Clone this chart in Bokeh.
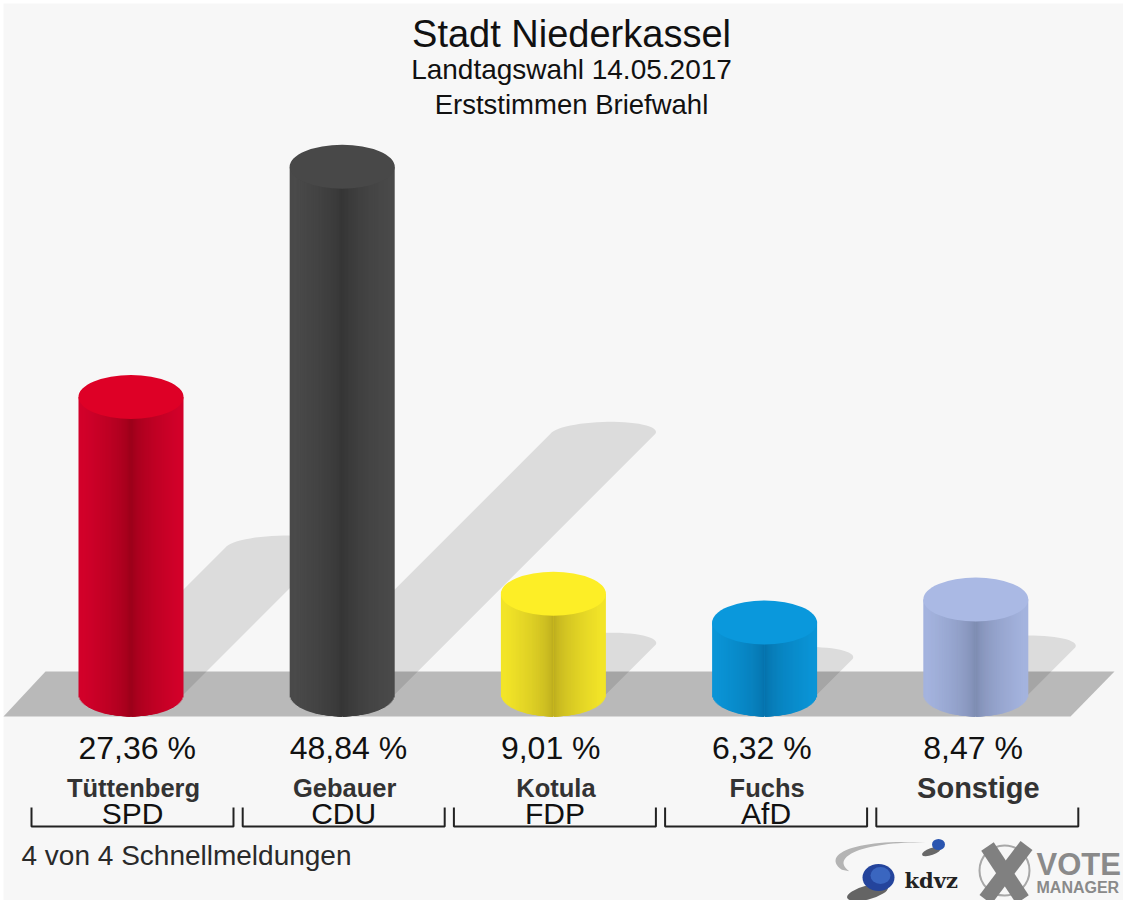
import numpy as np
from bokeh.core.properties import value
from bokeh.embed import file_html
from bokeh.models import ColumnDataSource, Range1d
from bokeh.plotting import figure
from bokeh.resources import INLINE

candidates = ["Tüttenberg", "Gebauer", "Kotula", "Fuchs", "Sonstige"]
candidate_sizes = ["25.5px", "25.5px", "25.5px", "25.5px", "29px"]
parties = ["SPD", "CDU", "FDP", "AfD", ""]
shares = [27.36, 48.84, 9.01, 6.32, 8.47]
edge_colors = ["#d2002a", "#4a4a4a", "#f2e428", "#0a94d6", "#a4b3de"]
center_colors = ["#960018", "#333333", "#b8a81e", "#0670a8", "#7a88ad"]
top_colors = ["#de0026", "#484848", "#fdee26", "#0a98dc", "#aab9e4"]
titles = ["Stadt Niederkassel", "Landtagswahl 14.05.2017", "Erststimmen Briefwahl"]
title_sizes = ["38px", "28px", "27.5px"]
footer = "4 von 4 Schnellmeldungen"

W, H = 1123, 900
PX_PER_CAT, PX_PER_PCT = 211.2, 10.72
X0, Y0 = 130.5, 689.8
FONT = value("Liberation Sans")


def X(px):
    return (np.asarray(px, dtype=float) - X0) / PX_PER_CAT


def Y(px):
    return (Y0 - np.asarray(px, dtype=float)) / PX_PER_PCT


def hex_rgb(c):
    return np.array([int(c[i:i + 2], 16) for i in (1, 3, 5)], dtype=float)


def rgb_hex(a):
    return "#%02x%02x%02x" % tuple(int(round(v)) for v in a)


p = figure(width=W, height=H, output_backend="svg", toolbar_location=None,
           x_range=Range1d(float(X(0)), float(X(W))),
           y_range=Range1d(float(Y(H)), float(Y(0))),
           min_border=0, background_fill_color="#ffffff", border_fill_color="#ffffff",
           outline_line_color=None)
p.axis.visible = False
p.grid.visible = False

p.quad(left=[float(X(3))], right=[float(X(W))], bottom=[float(Y(H))], top=[float(Y(3))],
       fill_color="#f7f7f7", line_color=None)

# ground band
p.patch(X([3, 1070, 1114, 45]), Y([716, 716, 671, 671]), fill_color="#b9b9b9", line_color=None)

RX, RY = 52.5 / PX_PER_CAT, 22.0 / PX_PER_PCT
BASE = float(Y(694))
cats = np.arange(len(shares))

# shadows
SH = 0.494
for c, v in zip(cats, shares):
    dy = SH * (v - BASE)
    dx = dy * PX_PER_PCT / PX_PER_CAT
    t = np.linspace(0, np.pi, 30)
    ax = c + dx + RX * np.cos(t) + (8 / PX_PER_CAT) * np.sin(t)
    ay = BASE + dy + (12 / PX_PER_PCT) * np.sin(t)
    p.patch(np.r_[c + RX, ax, c - RX], np.r_[BASE, ay, BASE], fill_color="#000000",
            fill_alpha=0.105, line_color=None)

# cylinders: overlapping strips painted from the outer edges inwards, so no seams show
N = 50
edges = np.linspace(1, 0, N + 1)
for c, v, ec, cc, tc in zip(cats, shares, edge_colors, center_colors, top_colors):
    e, m = hex_rgb(ec), hex_rgb(cc)
    outer = edges[:-1]
    depth = BASE - RY * np.sqrt(np.clip(1 - ((edges[:-1] + edges[1:]) / 2) ** 2, 0, 1))
    colors = [rgb_hex(m + (e - m) * min(1.0, d ** 0.55 * 1.05)) for d in (edges[:-1] + edges[1:]) / 2]
    for side in (-1, 1):
        xa = c + side * outer * RX
        xb = np.full(N, c + side * 0.002)
        src = ColumnDataSource(dict(left=np.minimum(xa, xb), right=np.maximum(xa, xb),
                                    bottom=depth, top=np.full(N, v), color=colors))
        p.quad(left="left", right="right", bottom="bottom", top="top", fill_color="color",
               line_color=None, source=src)
    p.ellipse(x=[c], y=[v], width=2 * RX, height=2 * RY, fill_color=tc, line_color=None)

# value labels (left aligned on the cylinder's left edge)
labels = [f"{v:.2f}".replace(".", ",") + " %" for v in shares]
p.text(x=cats - 52.5 / PX_PER_CAT, y=[float(Y(747))] * 5, text=labels, text_font=FONT,
       text_font_size="32px", text_align="left", text_baseline="middle", text_color="#111111")
for c, name, size in zip(cats, candidates, candidate_sizes):
    p.text(x=[c + 2.5 / PX_PER_CAT], y=[float(Y(787))], text=[name], text_font=FONT,
           text_font_style="bold", text_font_size=size, text_align="center",
           text_baseline="middle", text_color="#333333")
p.text(x=cats + 1.5 / PX_PER_CAT, y=[float(Y(813))] * 5, text=parties, text_font=FONT,
       text_font_size="30px", text_align="center", text_baseline="middle", text_color="#111111")

# brackets
off = 1.5 / PX_PER_CAT
hw = 101 / PX_PER_CAT
yb, yt = float(Y(826)), float(Y(807))
p.multi_line(xs=[[c + off - hw, c + off - hw, c + off + hw, c + off + hw] for c in cats],
             ys=[[yt, yb, yb, yt]] * 5, line_color="#222222", line_width=2)

# titles and footer
for txt, py, size in zip(titles, [33, 69, 104], title_sizes):
    p.text(x=[float(X(571))], y=[float(Y(py))], text=[txt], text_font=FONT, text_font_size=size,
           text_align="center", text_baseline="middle", text_color="#111111")
p.text(x=[float(X(21))], y=[float(Y(855))], text=[footer], text_font=FONT, text_font_size="28px",
       text_align="left", text_baseline="middle", text_color="#2a2a2a")

# logos
t = np.linspace(0, 1, 30)
outer_x = 925 - 90 * np.sin(t * np.pi * 0.62)
outer_y = 842 + 20 * (1 - np.cos(t * np.pi * 0.62)) - 3 * np.sin(t * np.pi)
inner_x = 925 - 82 * np.sin(t * np.pi * 0.62)
inner_y = 842 + 21 * (1 - np.cos(t * np.pi * 0.62)) - 1 * np.sin(t * np.pi)
p.patch(X(np.r_[outer_x, inner_x[::-1]]), Y(np.r_[outer_y, inner_y[::-1]]), fill_color="#b4b4b4",
        line_color=None)
p.ellipse(x=[float(X(931))], y=[float(Y(851))], width=20 / PX_PER_CAT, height=7 / PX_PER_PCT,
          angle=0.35, fill_color="#444444", fill_alpha=0.8, line_color=None)
p.ellipse(x=[float(X(938))], y=[float(Y(844))], width=13 / PX_PER_CAT, height=11 / PX_PER_PCT,
          fill_color="#2a55b0", line_color=None)
p.ellipse(x=[float(X(867))], y=[float(Y(892))], width=42 / PX_PER_CAT, height=14 / PX_PER_PCT,
          angle=0.25, fill_color="#333333", fill_alpha=0.75, line_color=None)
p.ellipse(x=[float(X(878))], y=[float(Y(877))], width=32 / PX_PER_CAT, height=27 / PX_PER_PCT,
          fill_color="#24449c", line_color=None)
p.ellipse(x=[float(X(880))], y=[float(Y(875))], width=20 / PX_PER_CAT, height=17 / PX_PER_PCT,
          fill_color="#3a66c0", line_color=None)
p.text(x=[float(X(904))], y=[float(Y(880))], text=["kdvz"], text_font=value("DejaVu Serif"),
       text_font_style="bold", text_font_size="21px", text_align="left", text_baseline="middle",
       text_color="#222222")

p.ellipse(x=[float(X(1004))], y=[float(Y(870))], width=50 / PX_PER_CAT, height=50 / PX_PER_PCT,
          fill_color=None, line_color="#a8a8a8", line_width=2)
p.multi_line(xs=[X([987, 1022]).tolist(), X([1026, 985]).tolist()],
             ys=[Y([846, 899]).tolist(), Y([845, 899]).tolist()],
             line_color="#808080", line_width=15)
p.text(x=[float(X(1036))], y=[float(Y(864))], text=["VOTE"], text_font=FONT, text_font_style="bold",
       text_font_size="31px", text_align="left", text_baseline="middle", text_color="#8a8a8a")
p.text(x=[float(X(1036))], y=[float(Y(887))], text=["MANAGER"], text_font=FONT, text_font_style="bold",
       text_font_size="16px", text_align="left", text_baseline="middle", text_color="#8a8a8a")

open("out.html", "w").write(file_html(p, INLINE))
